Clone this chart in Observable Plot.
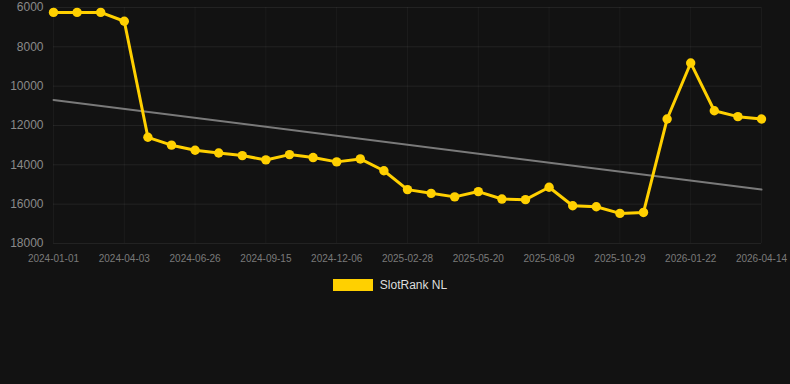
<!DOCTYPE html>
<html>
<head>
<meta charset="utf-8">
<script src="https://cdn.jsdelivr.net/npm/d3@7"></script>
<script src="https://cdn.jsdelivr.net/npm/@observablehq/plot@0.6"></script>
<style>
  html, body { margin: 0; padding: 0; background: #121212; }
  body { width: 790px; height: 384px; font-family: "Liberation Sans", Arial, sans-serif; }
  #legend { display: flex; justify-content: center; align-items: center; margin-top: 13px; margin-right: 10px; }
  #legend .sw { width: 40px; height: 12px; background: #ffd000; margin-right: 7px; }
  #legend .lb { color: #dddddd; font-size: 12px; }
</style>
</head>
<body>
<div id="chart"></div>
<div id="legend"><span class="sw"></span><span class="lb">SlotRank NL</span></div>
<script>
const dates = [
  "2024-01-01","2024-01-31","2024-03-02","2024-04-03","2024-05-01","2024-05-29",
  "2024-06-26","2024-07-23","2024-08-19","2024-09-15","2024-10-12","2024-11-09",
  "2024-12-06","2025-01-03","2025-01-31","2025-02-28","2025-03-27","2025-04-23",
  "2025-05-20","2025-06-16","2025-07-13","2025-08-09","2025-09-05","2025-10-02",
  "2025-10-29","2025-11-26","2025-12-24","2026-01-22","2026-02-18","2026-03-17",
  "2026-04-14"
];
const ranks = [
  6250, 6250, 6250, 6700, 12600, 13000,
  13260, 13400, 13530, 13750, 13480, 13630,
  13850, 13700, 14300, 15260, 15450, 15630,
  15360, 15740, 15770, 15140, 16080, 16130,
  16470, 16420, 11670, 8820, 11250, 11550,
  11670
];
const yTicks = [6000, 8000, 10000, 12000, 14000, 16000, 18000];
const seriesName = "SlotRank NL";

const data = dates.map((d, i) => ({i, date: d, rank: ranks[i]}));
const xTicks = dates.map((d, i) => i).filter(i => i % 3 === 0);

const chart = Plot.plot({
  width: 790,
  height: 265,
  marginLeft: 53,
  marginRight: 29,
  marginTop: 7,
  marginBottom: 22,
  style: {background: "#121212", fontFamily: "'Liberation Sans', Arial, sans-serif"},
  x: {type: "linear", domain: [0, dates.length - 1]},
  y: {domain: [6000, 18000], reverse: true},
  marks: [
    Plot.gridY(yTicks, {stroke: "#ffffff", strokeOpacity: 0.07, strokeWidth: 1}),
    Plot.gridX(xTicks, {stroke: "#ffffff", strokeOpacity: 0.04, strokeWidth: 1}),
    Plot.axisY(yTicks, {tickSize: 0, tickPadding: 10, fontSize: 12, fill: "#8a8a8a", label: null, tickFormat: d => String(d)}),
    Plot.axisX(xTicks, {tickSize: 0, tickPadding: 11, fontSize: 10, fill: "#7a7a7a", label: null, tickFormat: i => dates[i]}),
    Plot.linearRegressionY(data, {x: "i", y: "rank", stroke: "#7a7a7a", strokeWidth: 2, ci: 0}),
    Plot.line(data, {x: "i", y: "rank", stroke: "#ffd000", strokeWidth: 3}),
    Plot.dot(data, {x: "i", y: "rank", r: 4.7, fill: "#ffd000", stroke: null})
  ]
});
document.getElementById("chart").appendChild(chart);
document.querySelector("#legend .lb").textContent = seriesName;
</script>
</body>
</html>
